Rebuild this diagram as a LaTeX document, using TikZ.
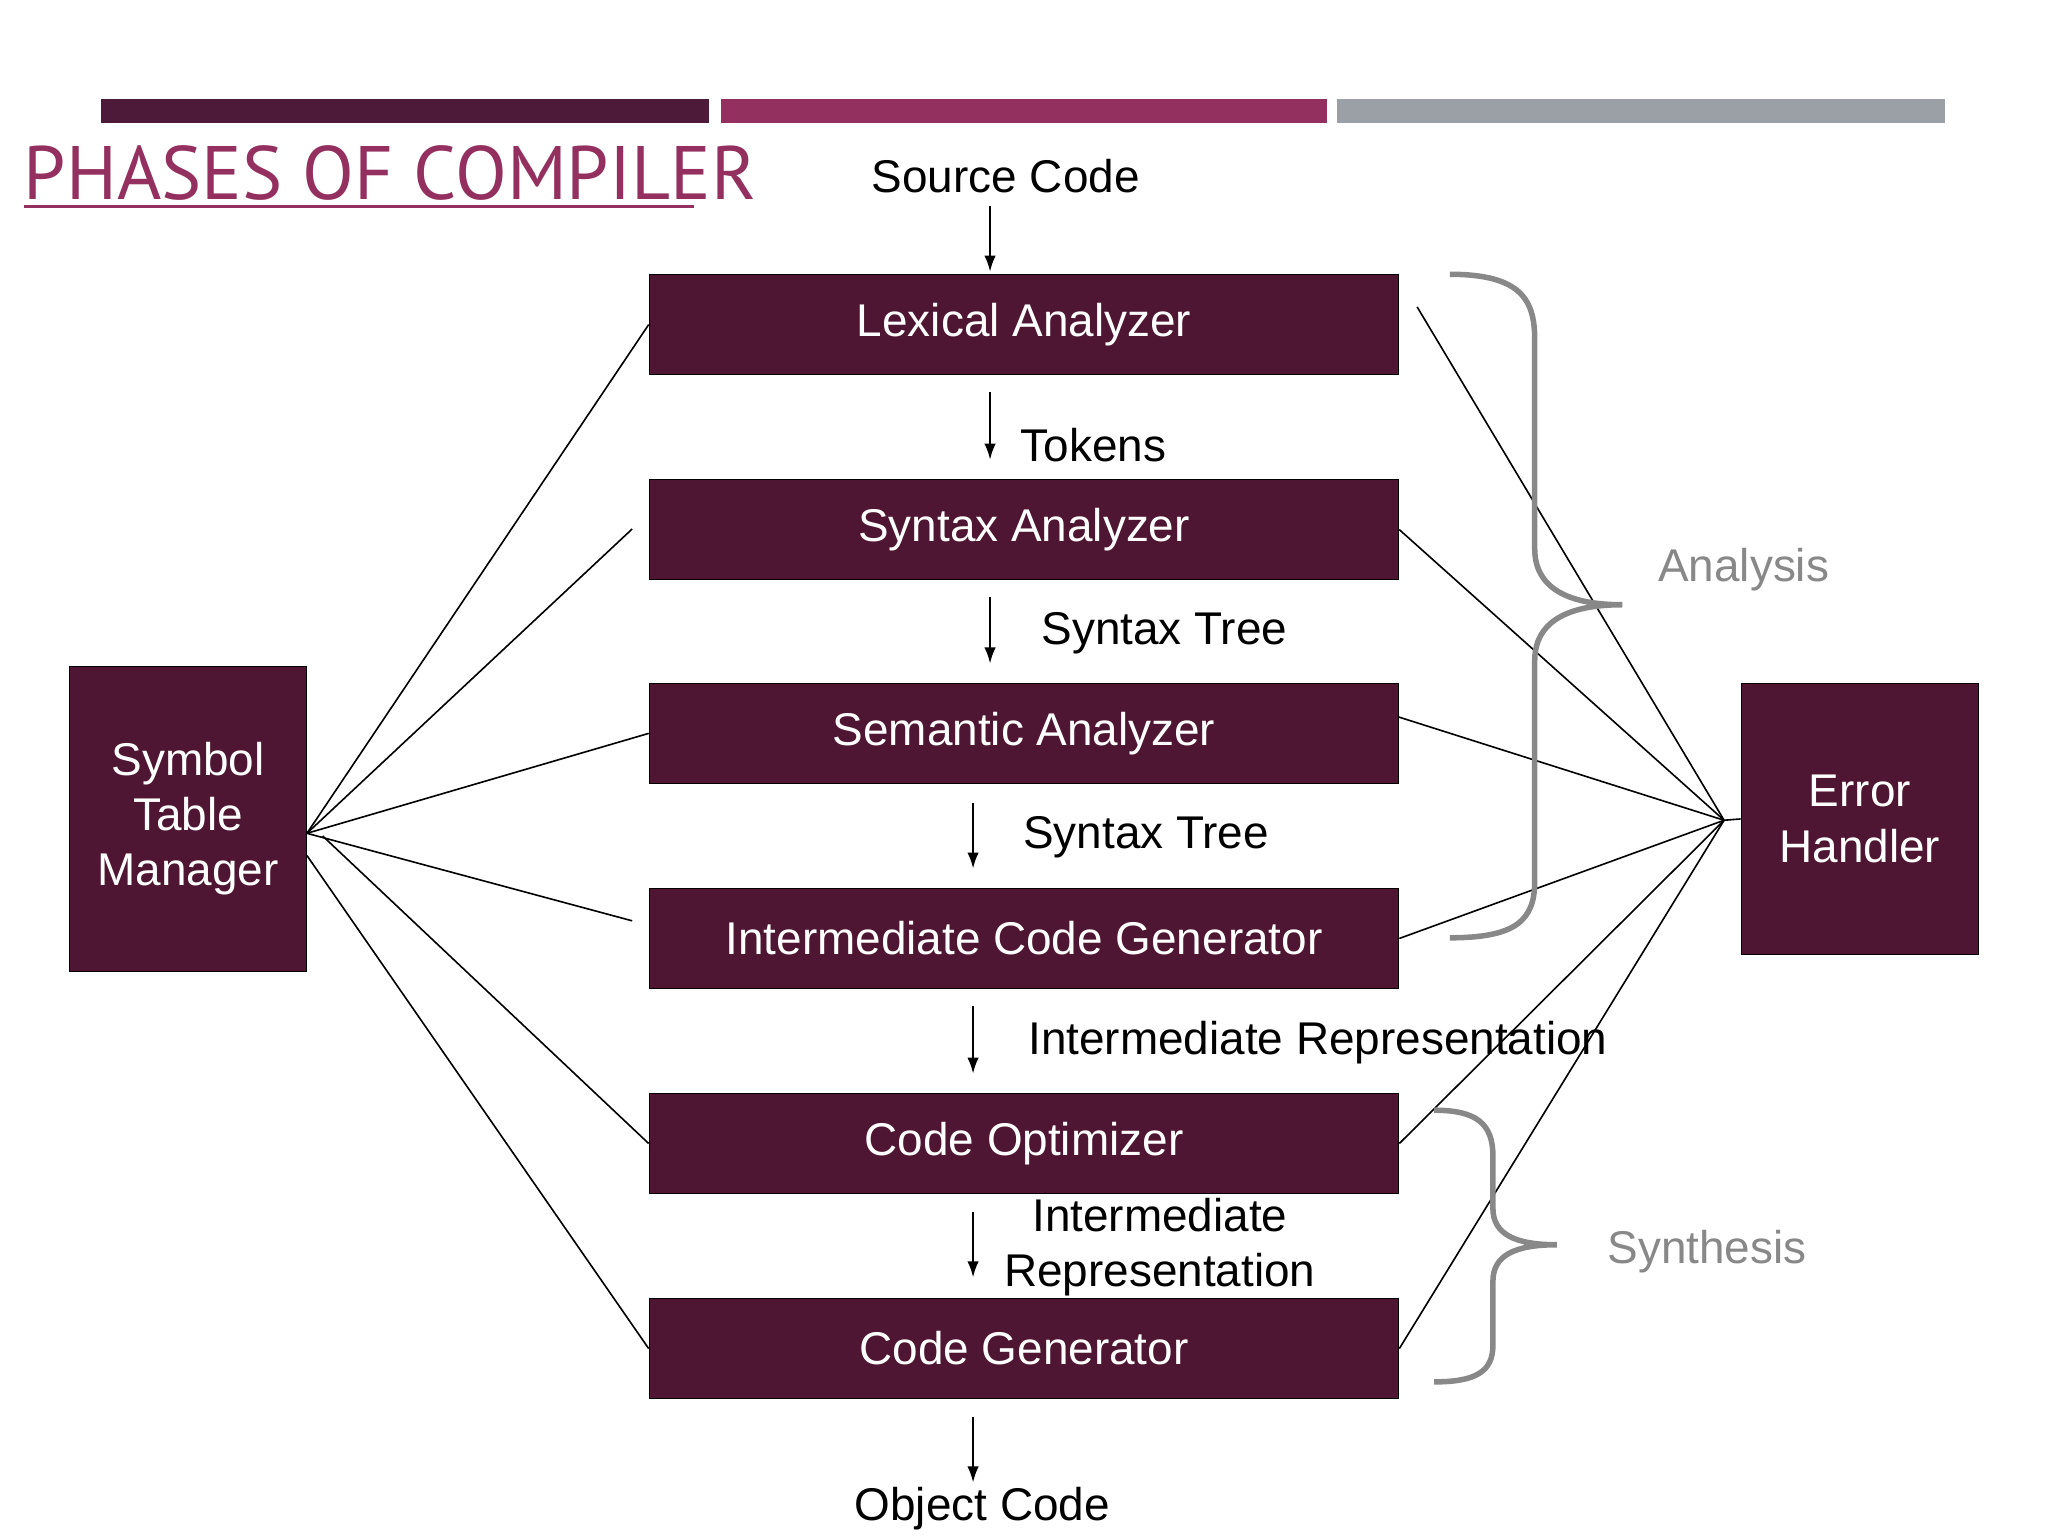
\documentclass[tikz,border=0pt]{standalone}
\usepackage{fontspec}
\setmainfont{Liberation Sans}
\newfontfamily\titlefont{PT Sans}
\usetikzlibrary{arrows.meta}
\definecolor{boxc}{HTML}{4E1632}
\definecolor{barA}{HTML}{4E1A3A}
\definecolor{barB}{HTML}{94305F}
\definecolor{barC}{HTML}{9AA0A6}
\definecolor{bracec}{HTML}{888888}
\begin{document}
\begin{tikzpicture}[x=0.02cm,y=-0.02cm,
  phase/.style={draw=black,fill=boxc,text=white,minimum width=574*0.02cm,minimum height=77*0.02cm,font=\fontsize{20}{24}\selectfont,inner sep=0},
  side/.style={draw=black,fill=boxc,text=white,font=\fontsize{20}{24}\selectfont,align=center,inner sep=0},
  lbl/.style={font=\fontsize{20}{24}\selectfont,inner sep=0},
  flow/.style={-{Latex[length=7pt,width=5pt]},line width=0.9pt},
  conn/.style={line width=0.7pt},
  brace/.style={draw=bracec,line width=2.4pt},
  grp/.style={font=\fontsize{20}{24}\selectfont,text=bracec}]
\useasboundingbox[fill=white] (0,0) rectangle (1568,1176);
\fill[barA] (77,76) rectangle (543,94);
\fill[barB] (552,76) rectangle (1016,94);
\fill[barC] (1024,76) rectangle (1489,94);
\node[anchor=base west,inner sep=0,text=barB,font=\titlefont\fontsize{33}{36}\selectfont] (title) at (18,153) {PHASES OF COMPILER};
\draw[barB,line width=1.3pt] (18,158) -- (531,158);

\node[phase] (lex) at (784,248.5) {Lexical Analyzer};
\node[phase] (syn) at (784,405.5) {Syntax Analyzer};
\node[phase] (sem) at (784,561.5) {Semantic Analyzer};
\node[phase] (icg) at (784,718.5) {Intermediate Code Generator};
\node[phase] (opt) at (784,875.5) {Code Optimizer};
\node[phase] (gen) at (784,1032.5) {Code Generator};
\node[side,minimum width=182*0.02cm,minimum height=234*0.02cm] (sym) at (144,627) {Symbol\\Table\\Manager};
\node[side,minimum width=182*0.02cm,minimum height=208*0.02cm] (err) at (1424,627) {Error\\Handler};

\node[lbl] (src) at (770,135) {Source Code};
\node[lbl,anchor=west] (tok) at (781,341) {Tokens};
\node[lbl,anchor=west] (st1) at (797,485) {Syntax Tree};
\node[lbl,anchor=west] (st2) at (783,641) {Syntax Tree};
\node[lbl,anchor=west] (ir1) at (787,798) {Intermediate Representation};
\node[lbl,align=center] (ir2) at (888,955) {Intermediate\\Representation};
\node[lbl] (obj) at (752,1155) {Object Code};

\coordinate (a0) at (758,158); \coordinate (a1) at (758,208);
\draw[flow] (a0) -- (a1);
\coordinate (b0) at (758,300); \coordinate (b1) at (758,352); \draw[flow] (b0) -- (b1);
\coordinate (c0) at (758,457); \coordinate (c1) at (758,508); \draw[flow] (c0) -- (c1);
\coordinate (d0) at (745,615); \coordinate (d1) at (745,665); \draw[flow] (d0) -- (d1);
\coordinate (e0) at (745,770); \coordinate (e1) at (745,822); \draw[flow] (e0) -- (e1);
\coordinate (f0) at (745,928); \coordinate (f1) at (745,978); \draw[flow] (f0) -- (f1);
\coordinate (g0) at (745,1085); \coordinate (g1) at (745,1135); \draw[flow] (g0) -- (g1);

\coordinate (s1) at (235,638); \coordinate (s2) at (247,640); \coordinate (s3) at (235,655);
\coordinate (syl) at (484,405); \coordinate (icl) at (484,705);
\draw[conn] (s1) -- (lex.west);
\draw[conn] (s1) -- (syl);
\draw[conn] (s1) -- (sem.west);
\draw[conn] (s1) -- (icl);
\draw[conn] (s2) -- (opt.west);
\draw[conn] (s3) -- (gen.west);

\coordinate (eh) at (1320,628); \coordinate (lexr) at (1085,235);
\draw[conn] (lexr) -- (eh);
\draw[conn] (syn.east) -- (eh);
\draw[conn] (1071,549) -- (eh);
\draw[conn] (icg.east) -- (eh);
\draw[conn] (opt.east) -- (eh);
\draw[conn] (gen.east) -- (eh);
\draw[conn] (eh) -- (err.west);

\draw[brace] (1110,210) .. controls (1165,210) and (1175,230) .. (1175,260) -- (1175,420) .. controls (1175,450) and (1200,463) .. (1242,463) .. controls (1200,463) and (1175,476) .. (1175,506) -- (1175,675) .. controls (1175,705) and (1160,718) .. (1110,718);
\node[grp] (ana) at (1335,436) {Analysis};
\draw[brace] (1098,850) .. controls (1130,850) and (1143,860) .. (1143,885) -- (1143,925) .. controls (1143,945) and (1160,953) .. (1192,953) .. controls (1160,953) and (1143,961) .. (1143,981) -- (1143,1030) .. controls (1143,1050) and (1130,1058) .. (1098,1058);
\node[grp] (syth) at (1307,958) {Synthesis};
\end{tikzpicture}
\end{document}
